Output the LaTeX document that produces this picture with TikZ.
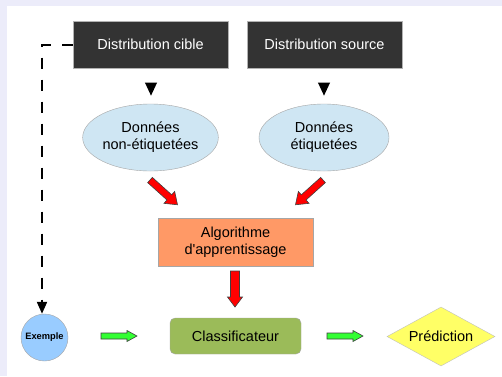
\documentclass[tikz,border=0pt]{standalone}
\usepackage{fontspec}
\setmainfont{Liberation Sans}
\usetikzlibrary{shapes.geometric,arrows.meta}
\definecolor{lav}{HTML}{ECECFA}
\definecolor{boxdark}{HTML}{333333}
\definecolor{ellfill}{HTML}{CFE6F3}
\definecolor{algofill}{HTML}{FF9966}
\definecolor{clsfill}{HTML}{9BBB59}
\definecolor{exfill}{HTML}{99CCFF}
\definecolor{predfill}{HTML}{FFFF66}
\definecolor{redarr}{HTML}{FF0000}
\definecolor{greenarr}{HTML}{33FF33}
\tikzset{
  darkbox/.style={draw=gray!60, fill=boxdark, text=white, minimum width=155pt, minimum height=47pt, font=\fontsize{14.5}{16}\selectfont, inner sep=0pt},
  dataell/.style={ellipse, draw=gray!70, fill=ellfill, minimum width=130pt, minimum height=67pt, inner sep=0pt, align=center, font=\fontsize{14.5}{17}\selectfont},
  redblock/.style={fill=redarr, draw=black!75, line width=0.6pt},
  greenblock/.style={fill=greenarr, draw=black!75, line width=0.6pt},
  tri/.style={isosceles triangle, fill=black, shape border rotate=-90, isosceles triangle apex angle=50, minimum height=13pt, minimum width=10pt, inner sep=0pt},
  pics/blockarr/.style args={#1/#2/#3/#4}{code={
    \draw[pic actions] (0,-#2) -- ({#1-#4},-#2) -- ({#1-#4},-#3) -- (#1,0) -- ({#1-#4},#3) -- ({#1-#4},#2) -- (0,#2) -- cycle;}},
}
\begin{document}
\begin{tikzpicture}[x=1pt,y=-1pt]
\useasboundingbox (0,0) rectangle (502,376);
\fill[lav] (0,0) rectangle (502,376);
\fill[white] (7,6) rectangle (502,376);

\node[darkbox] (dc) at (150.5,44.5) {Distribution cible};
\node[darkbox] (ds) at (324.5,44.5) {Distribution source};

\node[tri] (t1) at (151,86.5) {};
\node[tri] (t2) at (324,86.5) {};

\node[dataell] (e1) at (150.5,137.5) {Données\\non-étiquetées};
\node[dataell] (e2) at (324,137.5) {Données\\étiquetées};

\pic[redblock, rotate=-42] (r1) at (150,180) {blockarr={37/3.5/8/11}};
\pic[redblock, rotate=-138] (r2) at (323,180) {blockarr={37/3.5/8/11}};

\node[draw=gray!70, fill=algofill, minimum width=155pt, minimum height=48pt, align=center, inner sep=0pt, font=\fontsize{14.5}{17}\selectfont] (algo) at (235.5,242) {Algorithme\\d\textquotesingle apprentissage};

\pic[redblock, rotate=-90] (r3) at (235,271) {blockarr={36/4.5/7.5/10}};

\node[draw=gray!70, fill=clsfill, rounded corners=5pt, minimum width=131pt, minimum height=36pt, inner sep=0pt, font=\fontsize{14.5}{16}\selectfont] (cls) at (235.5,336) {Classificateur};

\node[circle, draw=gray!70, fill=exfill, minimum size=47pt, inner sep=0pt, font=\bfseries\fontsize{9.3}{10}\selectfont] (ex) at (44.5,337.5) {Exemple};

\pic[greenblock] (g1) at (101,336) {blockarr={36/3/5.5/10}};
\pic[greenblock] (g2) at (327,336) {blockarr={36/3/5.5/10}};

\node[diamond, draw=gray!50, fill=predfill, minimum width=108pt, minimum height=59pt, aspect=1.8, inner sep=0pt, font=\fontsize{14.5}{16}\selectfont] (pred) at (441,336.5) {Prédiction};

\coordinate (corner) at (42,44.5);
\draw[line width=2pt, dash pattern=on 11pt off 11pt, -{Triangle[width=10pt,length=12pt]}]
  (dc.west) -- (corner) -- (ex.north -| corner);
\end{tikzpicture}
\end{document}
